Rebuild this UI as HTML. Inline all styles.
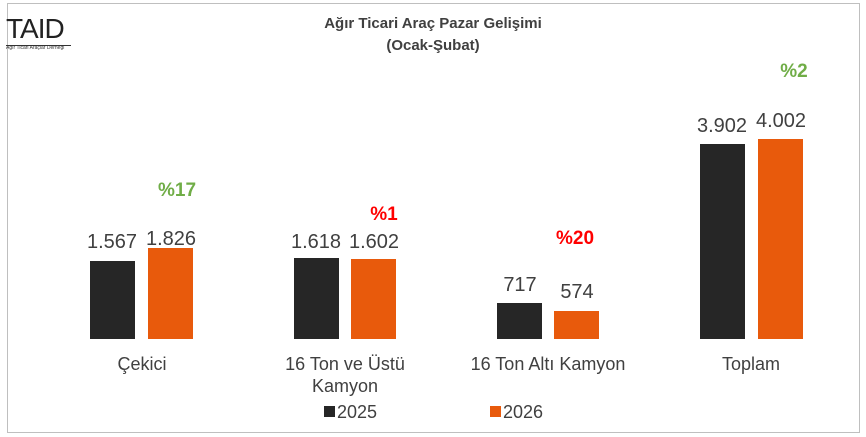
<!DOCTYPE html>
<html><head><meta charset="utf-8"><style>
body{margin:0;background:#fff;width:866px;height:437px;overflow:hidden;font-family:"Liberation Sans",sans-serif}
.box{position:absolute;left:7px;top:3px;width:851px;height:428px;border:1px solid #bfbfbf}
.t{position:absolute;white-space:nowrap;transform:translateX(-50%)}
.b{position:absolute;width:45px}
.k{background:#262626}.o{background:#e85a0c}
.v{font-size:20px;color:#404040}
.c{font-size:18px;color:#404040;text-align:center;line-height:22px}
.g{font-size:19px;font-weight:bold;color:#70ad47}
.r{font-size:19px;font-weight:bold;color:#ff0000}
</style></head><body>
<div class="box"></div>
<div style="position:absolute;left:6px;top:13px;font-size:28px;letter-spacing:-1px;color:#222">TAID</div>
<div style="position:absolute;left:6px;top:45px;width:65px;border-top:1px solid #333"></div>
<div style="position:absolute;left:6px;top:45px;font-size:5px;color:#333">Ağır Ticari Araçlar Derneği</div>
<div class="t" style="left:433px;top:13px;font-size:15px;font-weight:bold;color:#404040;text-align:center;line-height:22px">Ağır Ticari Araç Pazar Gelişimi<br>(Ocak-Şubat)</div>
<div class="b k" style="left:90px;top:261px;height:78px"></div>
<div class="b o" style="left:148px;top:248px;height:91px"></div>
<div class="b k" style="left:294px;top:258px;height:81px"></div>
<div class="b o" style="left:351px;top:259px;height:80px"></div>
<div class="b k" style="left:497px;top:303px;height:36px"></div>
<div class="b o" style="left:554px;top:311px;height:28px"></div>
<div class="b k" style="left:700px;top:144px;height:195px"></div>
<div class="b o" style="left:758px;top:139px;height:200px"></div>
<div class="t v" style="left:112px;top:231px">1.567</div>
<div class="t v" style="left:171px;top:228px">1.826</div>
<div class="t v" style="left:316px;top:231px">1.618</div>
<div class="t v" style="left:374px;top:231px">1.602</div>
<div class="t v" style="left:520px;top:274px">717</div>
<div class="t v" style="left:577px;top:281px">574</div>
<div class="t v" style="left:722px;top:115px">3.902</div>
<div class="t v" style="left:781px;top:110px">4.002</div>
<div class="t g" style="left:177px;top:180px">%17</div>
<div class="t r" style="left:384px;top:204px">%1</div>
<div class="t r" style="left:575px;top:228px">%20</div>
<div class="t g" style="left:794px;top:61px">%2</div>
<div class="t c" style="left:142px;top:353px">Çekici</div>
<div class="t c" style="left:345px;top:353px">16 Ton ve Üstü<br>Kamyon</div>
<div class="t c" style="left:548px;top:353px">16 Ton Altı Kamyon</div>
<div class="t c" style="left:751px;top:353px">Toplam</div>
<div style="position:absolute;left:324px;top:406px;width:11px;height:11px;background:#262626"></div>
<div class="c" style="position:absolute;left:337px;top:401px">2025</div>
<div style="position:absolute;left:490px;top:406px;width:11px;height:11px;background:#e85a0c"></div>
<div class="c" style="position:absolute;left:503px;top:401px">2026</div>
</body></html>
